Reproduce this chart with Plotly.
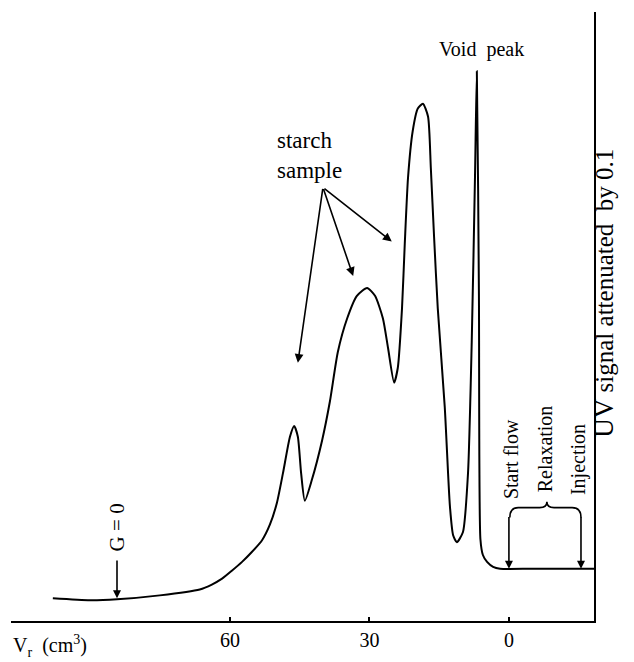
import plotly.graph_objects as go

# Elution volume (cm^3) and UV signal (arbitrary units)
vol = [98.1, 90.1, 84.3, 75.1, 66.5, 63.9, 61.7, 59.6, 57.4, 55.3, 53.1, 51.4,
       49.9, 48.6,
       47.1, 46.2, 45.4, 44.7, 43.9, 42.4, 40.2, 38.5, 36.8, 34.8, 32.7, 30.5,
       28.8, 27.1, 26.0, 24.7, 23.9, 23.0, 22.4, 21.7, 20.7, 19.6, 18.5, 17.4,
       16.8, 16.1, 15.3, 13.8, 12.7, 12.0, 11.2, 9.9, 8.8, 8.0, 7.3, 6.9,
       6.45, 6.13, 5.6, 4.7, 3.4, 1.9, -5.0, -18.3]
signal = [23, 21, 22, 26, 32, 37, 43, 51, 60, 70, 82, 98,
          120, 150,
          187, 198, 187, 150, 122, 143, 183, 223, 273, 307, 330, 338,
          330, 307, 277, 242, 257, 317, 383, 450, 497, 520, 525, 512,
          460, 390, 317, 217, 117, 87, 80, 90, 150, 283, 450, 558,
          330, 83, 67, 60, 55, 53, 53, 53]

tick_vals = [60, 30, 0]
tick_text = ["60", "30", "0"]

SERIF = "Liberation Serif, Times New Roman, serif"

fig = go.Figure()
fig.add_trace(go.Scatter(x=vol, y=signal, mode="lines",
                         line=dict(color="black", width=2, shape="spline", smoothing=0.6),
                         hoverinfo="skip", showlegend=False))

ann = []
# starch sample arrows
tail = (40.0, 440)
for hx, hy in [(45.4, 262), (33.5, 350), (25.2, 385)]:
    ann.append(dict(x=hx, y=hy, ax=tail[0], ay=tail[1], xref="x", yref="y",
                    axref="x", ayref="y", text="", showarrow=True,
                    arrowhead=2, arrowsize=1.1, arrowwidth=1.6, arrowcolor="black"))
ann.append(dict(x=50.3, y=472, xref="x", yref="y", text="starch<br>sample",
                showarrow=False, xanchor="left", align="left",
                font=dict(family=SERIF, size=23, color="black")))
ann.append(dict(x=6.0, y=580, xref="x", yref="y", text="Void&nbsp;&nbsp;peak",
                showarrow=False, font=dict(family=SERIF, size=20, color="black")))
# G = 0
ann.append(dict(x=84.3, y=23, ax=84.3, ay=63, xref="x", yref="y", axref="x", ayref="y",
                text="", showarrow=True, arrowhead=2, arrowsize=1, arrowwidth=1.6,
                arrowcolor="black"))
ann.append(dict(x=84.3, y=95, xref="x", yref="y", text="G = 0", textangle=-90,
                showarrow=False, font=dict(family=SERIF, size=21, color="black")))
# Start flow / Injection arrows
for xv in [0, -15.5]:
    ann.append(dict(x=xv, y=53, ax=xv, ay=107, xref="x", yref="y", axref="x", ayref="y",
                    text="", showarrow=True, arrowhead=2, arrowsize=1, arrowwidth=1.6,
                    arrowcolor="black"))
ann.append(dict(x=-0.6, y=164, xref="x", yref="y", text="Start flow", textangle=-90,
                showarrow=False, font=dict(family=SERIF, size=20, color="black")))
ann.append(dict(x=-7.7, y=175, xref="x", yref="y", text="Relaxation", textangle=-90,
                showarrow=False, font=dict(family=SERIF, size=20, color="black")))
ann.append(dict(x=-15.0, y=164, xref="x", yref="y", text="Injection", textangle=-90,
                showarrow=False, font=dict(family=SERIF, size=20, color="black")))
ann.append(dict(x=1.046, y=333, xref="paper", yref="y",
                text="<span style='font-size:27px'>UV</span> signal attenuated&nbsp;&nbsp;by 0.1",
                textangle=-90, showarrow=False,
                font=dict(family=SERIF, size=25, color="black")))
ann.append(dict(x=0.0, y=-0.015, xref="paper", yref="paper", xanchor="left", yanchor="top",
                text="V<sub>r</sub>  (cm<sup>3</sup>)", showarrow=False,
                font=dict(family=SERIF, size=20, color="black")))

brace = ("M -0.2,105 Q -0.2,115 -2,115 L -6.6,115 Q -8.17,115 -8.17,121 "
         "Q -8.17,115 -9.7,115 L -13.6,115 Q -15.5,115 -15.5,105")

fig.update_layout(
    width=634, height=662,
    margin=dict(l=11, r=40, t=12, b=32),
    paper_bgcolor="white", plot_bgcolor="white",
    annotations=ann,
    shapes=[dict(type="path", path=brace, xref="x", yref="y",
                 line=dict(color="black", width=1.6))],
    xaxis=dict(range=[107.1, -18.3], showgrid=False, zeroline=False,
               showline=True, linecolor="black", linewidth=2,
               ticks="inside", ticklen=4, tickwidth=1.5, tickcolor="black",
               tickvals=tick_vals, ticktext=tick_text,
               tickfont=dict(family=SERIF, size=20, color="black")),
    yaxis=dict(range=[0, 618], side="right", showgrid=False, zeroline=False,
               showline=True, linecolor="black", linewidth=2,
               showticklabels=False, ticks=""),
)

fig.write_html("out.html")
